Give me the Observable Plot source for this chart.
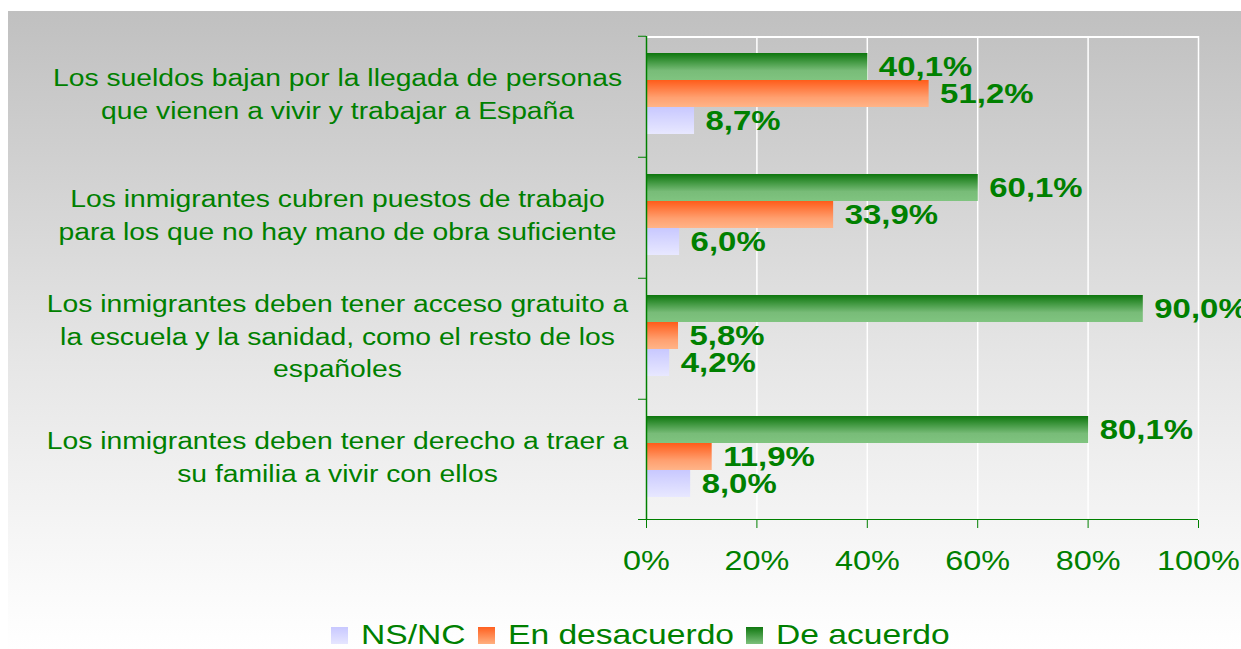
<!DOCTYPE html>
<html><head><meta charset="utf-8">
<script src="https://cdn.jsdelivr.net/npm/d3@7"></script>
<script src="https://cdn.jsdelivr.net/npm/@observablehq/plot@0.6"></script>
<style>
html,body{margin:0;padding:0;background:#fff;}
#wrap{position:relative;width:1241px;height:649px;overflow:hidden;font-family:"Liberation Sans",Arial,sans-serif;}
#bg{position:absolute;left:8px;top:11px;width:1233px;height:638px;background:linear-gradient(to bottom,#c0c0c0 0%,#e6e6e6 55%,#fbfbfb 92%,#ffffff 100%);}
#chart{position:absolute;left:0;top:0;}
#legend{position:absolute;left:40px;top:618px;width:1201px;height:34px;line-height:34px;display:flex;justify-content:center;align-items:center;color:#008000;font-size:28px;}
#legend .item{display:flex;align-items:center;margin:0 6px;}
#legend .sw{width:17px;height:17px;margin-right:13px;}
#legend .tx{display:inline-block;transform:scaleX(1.2);transform-origin:left center;}
</style>
</head><body>
<div id="wrap"><div id="bg"></div><div id="chart"></div><div id="legend"></div></div>
<script>
const categories = [
  "Los sueldos bajan por la llegada de personas\nque vienen a vivir y trabajar a España",
  "Los inmigrantes cubren puestos de trabajo\npara los que no hay mano de obra suficiente",
  "Los inmigrantes deben tener acceso gratuito a\nla escuela y la sanidad, como el resto de los\nespañoles",
  "Los inmigrantes deben tener derecho a traer a\nsu familia a vivir con ellos"
];
const series = ["De acuerdo", "En desacuerdo", "NS/NC"];
const deAcuerdo = [40.1, 60.1, 90.0, 80.1];
const enDesacuerdo = [51.2, 33.9, 5.8, 11.9];
const nsnc = [8.7, 6.0, 4.2, 8.0];
const xTicks = [0, 20, 40, 60, 80, 100];
const legendOrder = ["NS/NC", "En desacuerdo", "De acuerdo"];

const GREEN = "#008000";
const gradId = {"De acuerdo": "gGreen", "En desacuerdo": "gOrange", "NS/NC": "gLav"};
const gradCss = {
  "De acuerdo": "linear-gradient(to bottom,#107810,#7cc07c)",
  "En desacuerdo": "linear-gradient(to bottom,#ff6020,#ffb080)",
  "NS/NC": "linear-gradient(to bottom,#c8c8ff,#e6e6ff)"
};

const values = {"De acuerdo": deAcuerdo, "En desacuerdo": enDesacuerdo, "NS/NC": nsnc};
const rows = [];
categories.forEach((c, i) => series.forEach(s => rows.push({cat: c, serie: s, v: values[s][i]})));

const W = 1241, H = 600, mt = 35, mb = 79, ml = 646, mr = 43;
const band = (H - mt - mb) / categories.length;
const fmt = v => v.toFixed(1).replace(".", ",") + "%";
const firstCat = categories[0], lastCat = categories[categories.length - 1];

const chart = Plot.plot({
  width: W, height: H,
  marginTop: mt, marginBottom: mb, marginLeft: ml, marginRight: mr,
  style: {background: "transparent", color: GREEN, fontFamily: "'Liberation Sans', Arial, sans-serif", overflow: "visible"},
  x: {domain: [0, 100]},
  y: {domain: series, paddingInner: 0, paddingOuter: 0.72, align: 0.42, axis: null},
  fy: {domain: categories, padding: 0, axis: null},
  marks: [
    Plot.gridX(xTicks.slice(1), {stroke: "white", strokeOpacity: 1, strokeWidth: 1.5}),
    Plot.rect([firstCat], {fy: d => d, x1: 0, x2: 100, fill: "white", insetBottom: band - 2.5}),
    ...series.map(s => Plot.barX(rows.filter(d => d.serie === s), {
      fy: "cat", y: "serie", x: "v", fill: `url(#${gradId[s]})`
    })),
    Plot.rect([lastCat], {fy: d => d, x1: 0, x2: 100, fill: GREEN, insetTop: band - 1.5, insetLeft: -8}),
    Plot.ruleX([0], {stroke: GREEN, strokeWidth: 1.5}),
    Plot.axisX({ticks: xTicks, tickSize: 8, tickPadding: 22, tickFormat: d => d + "%", fontSize: 27, label: null, stroke: GREEN, ariaDescription: "xlab"}),
    Plot.axisFy({anchor: "left", tickSize: 8, tickFormat: () => "", label: null, dy: -band / 2, stroke: GREEN}),
    Plot.text(categories, {fy: d => d, text: d => d, frameAnchor: "left", dx: -309, dy: -5, textAnchor: "middle", lineHeight: 1.43, fontSize: 23, fill: GREEN, ariaDescription: "cat-label"}),
    Plot.text(rows, {fy: "cat", y: "serie", x: "v", text: d => fmt(d.v), dx: 11, textAnchor: "start", fontWeight: "bold", fontSize: 27, fill: GREEN, ariaDescription: "val-label"})
  ]
});

const ns = "http://www.w3.org/2000/svg";
const defs = document.createElementNS(ns, "defs");
defs.innerHTML = `
<linearGradient id="gGreen" x1="0" y1="0" x2="0" y2="1"><stop offset="0" stop-color="#0d760d"/><stop offset="0.65" stop-color="#78bc78"/><stop offset="1" stop-color="#80c480"/></linearGradient>
<linearGradient id="gOrange" x1="0" y1="0" x2="0" y2="1"><stop offset="0" stop-color="#ff5c1a"/><stop offset="0.65" stop-color="#ffa070"/><stop offset="1" stop-color="#ffb488"/></linearGradient>
<linearGradient id="gLav" x1="0" y1="0" x2="0" y2="1"><stop offset="0" stop-color="#c8c8ff"/><stop offset="1" stop-color="#e8e8ff"/></linearGradient>`;
chart.insertBefore(defs, chart.firstChild);
document.getElementById("chart").appendChild(chart);

// horizontally stretched glyphs, as in the reference rendering
function stretch(sel, k) {
  chart.querySelectorAll(sel).forEach(el => {
    const t = el.getAttribute("transform");
    if (t) { el.setAttribute("transform", t + ` scale(${k},1)`); }
    else {
      const x = +(el.getAttribute("x") || 0), y = +(el.getAttribute("y") || 0);
      el.removeAttribute("x"); el.removeAttribute("y");
      el.setAttribute("transform", `translate(${x},${y}) scale(${k},1)`);
    }
  });
}
stretch('g[aria-label="x-axis tick label"] text', 1.2);
stretch('g[aria-description="cat-label"] text', 1.23);
stretch('g[aria-description="val-label"] text', 1.22);

const leg = document.getElementById("legend");
legendOrder.forEach(s => {
  const it = document.createElement("div"); it.className = "item";
  const sw = document.createElement("div"); sw.className = "sw"; sw.style.background = gradCss[s];
  const tx = document.createElement("span"); tx.className = "tx"; tx.textContent = s;
  it.appendChild(sw); it.appendChild(tx); leg.appendChild(it);
  tx.style.marginRight = (tx.offsetWidth * 0.2) + "px";
});
</script>
</body></html>
